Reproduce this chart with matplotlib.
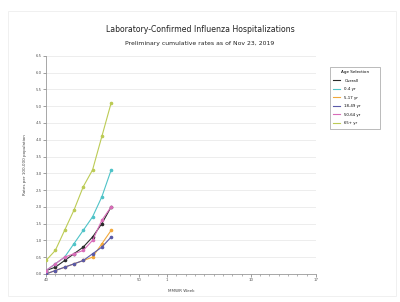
import matplotlib
matplotlib.use("Agg")
import matplotlib.pyplot as plt
import numpy as np

# MMWR weeks of the season (40..52, then 1..17)
weeks = list(range(40, 53)) + list(range(1, 18))
data_weeks = [40, 41, 42, 43, 44, 45, 46, 47]

# cumulative rates per 100,000
overall = [0.1, 0.2, 0.4, 0.6, 0.8, 1.1, 1.5, 2.0]
age_0_4 = [0.1, 0.3, 0.5, 0.9, 1.3, 1.7, 2.3, 3.1]
age_5_17 = [0.0, 0.1, 0.2, 0.3, 0.4, 0.5, 0.9, 1.3]
age_18_49 = [0.0, 0.1, 0.2, 0.3, 0.4, 0.6, 0.8, 1.1]
age_50_64 = [0.1, 0.3, 0.5, 0.6, 0.7, 1.0, 1.6, 2.0]
age_65 = [0.4, 0.7, 1.3, 1.9, 2.6, 3.1, 4.1, 5.1]

series = [
    ("Overall", overall, "#2a2a2a"),
    ("0-4 yr", age_0_4, "#4fc3c8"),
    ("5-17 yr", age_5_17, "#f2a93b"),
    ("18-49 yr", age_18_49, "#5a5aa8"),
    ("50-64 yr", age_50_64, "#d96cb8"),
    ("65+ yr", age_65, "#bccb55"),
]

x_idx = [weeks.index(w) for w in data_weeks]

fig = plt.figure(figsize=(4.0, 3.02), dpi=100)
ax = fig.add_axes([0.115, 0.093, 0.675, 0.722])

for name, vals, col in series:
    ax.plot(x_idx, vals, color=col, lw=0.8, marker="o", ms=1.6,
            mfc=col, mec=col, label=name, zorder=3)

ax.set_xlim(0, len(weeks) - 1)
ax.set_ylim(0, 6.5)
ax.set_yticks(np.arange(0, 6.51, 0.5))
ax.set_yticklabels(["%.1f" % v for v in np.arange(0, 6.51, 0.5)])
ax.yaxis.grid(True, color="#e6e6e6", lw=0.5)
ax.set_axisbelow(True)

major = [40, 50, 1, 10, 17]
ax.set_xticks([weeks.index(w) for w in major])
ax.set_xticklabels([str(w) for w in major])
ax.set_xticks(range(len(weeks)), minor=True)

ax.tick_params(axis="both", labelsize=2.8, colors="#555555", length=2, width=0.4, pad=1)
ax.tick_params(axis="x", which="minor", length=1.5, width=0.4, colors="#777777")
for s in ["top", "right"]:
    ax.spines[s].set_visible(False)
for s in ["left", "bottom"]:
    ax.spines[s].set_color("#999999")
    ax.spines[s].set_linewidth(0.6)

ax.set_ylabel("Rates per 100,000 population", fontsize=3, color="#444444", labelpad=6)
ax.set_xlabel("MMWR Week", fontsize=3, color="#444444", labelpad=5)

fig.text(0.5, 0.903, "Laboratory-Confirmed Influenza Hospitalizations",
         ha="center", va="center", fontsize=5.6, color="#222222")
fig.text(0.5, 0.857, "Preliminary cumulative rates as of Nov 23, 2019",
         ha="center", va="center", fontsize=4.4, color="#222222")

handles = [plt.Line2D([], [], color=c, lw=0.8) for _, _, c in series]
leg = fig.legend(handles, [n for n, _, _ in series], title="Age Selection",
                 loc="upper left", bbox_to_anchor=(0.82, 0.59, 0.135, 0.195),
                 mode="expand", fontsize=2.8, title_fontsize=3, frameon=True,
                 fancybox=False, handlelength=1.8, labelspacing=1.15,
                 borderpad=0.9, handletextpad=1.0)
leg.get_frame().set_edgecolor("#888888")
leg.get_frame().set_linewidth(0.5)
leg._legend_box.align = "center"

# faint outer frame
fig.patches.append(plt.Rectangle((0.02, 0.02), 0.97, 0.945, transform=fig.transFigure,
                                 fill=False, ec="#eeeeee", lw=0.6))

fig.savefig("out.png", dpi=100)
